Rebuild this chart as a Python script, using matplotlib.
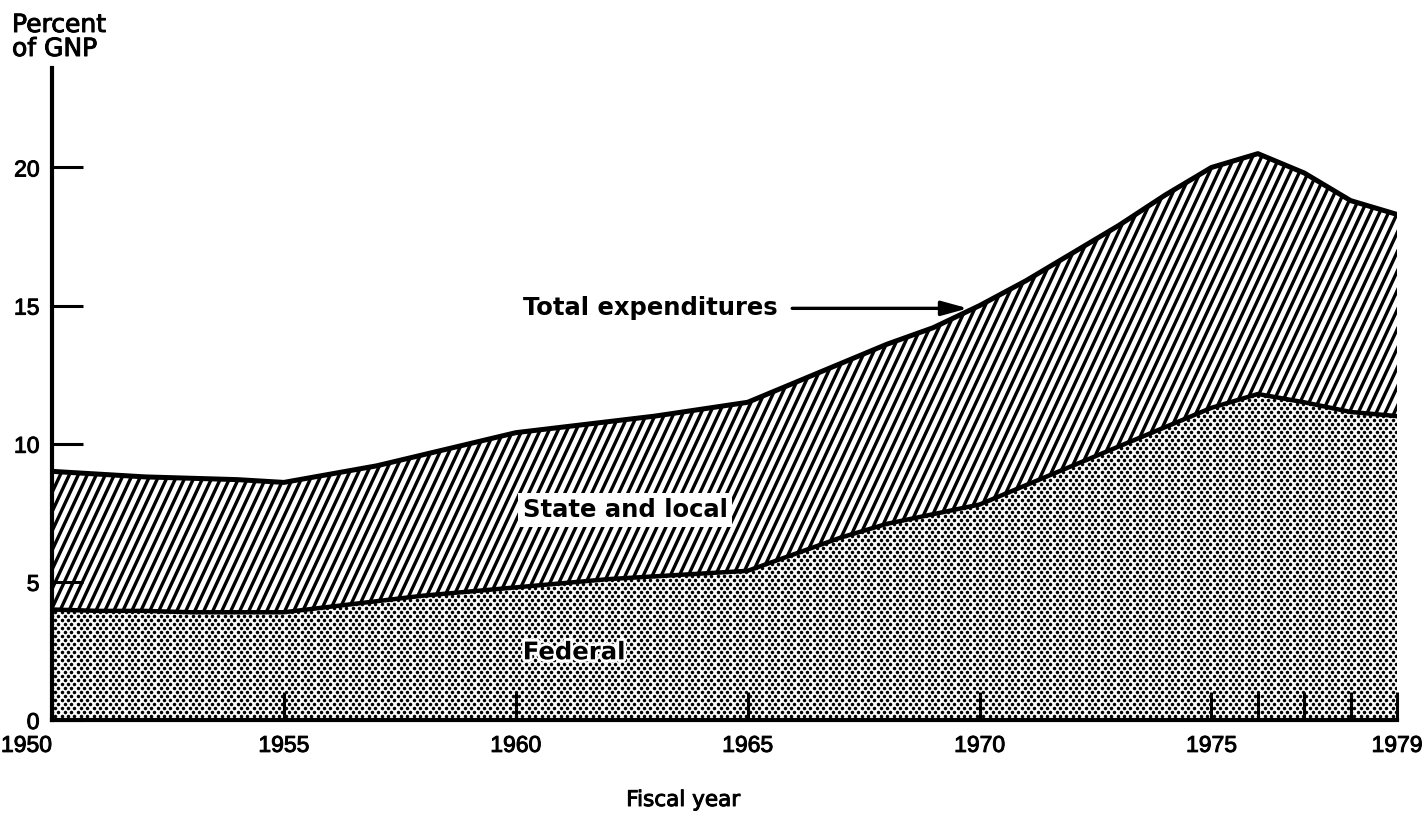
import numpy as np
import matplotlib
matplotlib.use("Agg")
import matplotlib.pyplot as plt
import matplotlib.patheffects as pe
from matplotlib.collections import LineCollection

plt.rcParams['font.family'] = ['Liberation Sans', 'DejaVu Sans']

# Data (percent of GNP)
years = np.arange(1950, 1980)
total = [9.0, 8.9, 8.8, 8.75, 8.7, 8.6, 8.9, 9.2, 9.6, 10.0,
         10.4, 10.6, 10.8, 11.0, 11.25, 11.5, 12.2, 12.9, 13.6, 14.2,
         15.0, 15.9, 16.9, 17.9, 19.0, 20.0, 20.5, 19.8, 18.8, 18.3]
federal = [4.0, 3.95, 3.95, 3.9, 3.9, 3.9, 4.1, 4.3, 4.5, 4.65,
           4.8, 4.95, 5.1, 5.2, 5.3, 5.4, 6.0, 6.6, 7.1, 7.45,
           7.8, 8.5, 9.2, 9.9, 10.6, 11.3, 11.8, 11.5, 11.15, 11.0]
xticks = [1950, 1955, 1960, 1965, 1970, 1975, 1976, 1977, 1978, 1979]
xlabels = ['1950', '1955', '1960', '1965', '1970', '1975', '', '', '', '1979']
yticks = [0, 5, 10, 15, 20]

W, H = 1428, 815
fig = plt.figure(figsize=(W / 100, H / 100), dpi=100)
rect = [52 / W, 95 / H, (1397 - 52) / W, (720 - 68) / H]
ax = fig.add_axes(rect)
xmin, xmax, ymin, ymax = 1950, 1979, 0, 23.6
ax.set_xlim(xmin, xmax)
ax.set_ylim(ymin, ymax)

# pixels per data unit, for the hand-made textures
ppx = rect[2] * W / (xmax - xmin)
ppy = rect[3] * H / (ymax - ymin)

# areas
fed_poly = ax.fill_between(years, 0, federal, facecolor='white', edgecolor='none', zorder=1)
st_poly = ax.fill_between(years, federal, total, facecolor='white', edgecolor='none', zorder=1)

# dot screen for federal area
gx, gy = 6.4, 4.0
rows = np.arange(0, int(rect[3] * H / gy) + 2)
pts = []
for j in rows:
    xs = np.arange(0, rect[2] * W + gx, gx) + (j % 2) * gx / 2
    pts.append(np.column_stack([xs, np.full_like(xs, j * gy)]))
pts = np.vstack(pts)
dots = ax.scatter(xmin + pts[:, 0] / ppx, ymin + pts[:, 1] / ppy, s=6.5,
                  color='black', linewidths=0, zorder=1.5)
dots.set_clip_path(fed_poly.get_paths()[0], ax.transData)

# diagonal hatch for state and local area
ang = np.deg2rad(65)
hpx = rect[3] * H
step = 9.0
x0s = np.arange(-hpx / np.tan(ang), rect[2] * W + step, step)
segs = [[(xmin + x0 / ppx, ymin), (xmin + (x0 + hpx / np.tan(ang)) / ppx, ymin + hpx / ppy)]
        for x0 in x0s]
hatch = LineCollection(segs, colors='black', linewidths=2.4, zorder=1.5)
ax.add_collection(hatch)
hatch.set_clip_path(st_poly.get_paths()[0], ax.transData)

# outlines
ax.plot(years, total, color='black', lw=3.6, zorder=3, solid_capstyle='butt')
ax.plot(years, federal, color='black', lw=3.2, zorder=3, solid_capstyle='butt')

# axes styling
for s in ['top', 'right']:
    ax.spines[s].set_visible(False)
for s in ['left', 'bottom']:
    ax.spines[s].set_linewidth(3)
ax.set_axisbelow(False)
ax.set_xticks(xticks)
ax.set_xticklabels(xlabels)
ax.set_yticks(yticks)
ax.tick_params(axis='x', direction='in', length=20, width=2.2, pad=10, labelsize=16.5)
ax.tick_params(axis='y', direction='in', length=22, width=2.2, pad=9, labelsize=16.5)
heavy = [pe.withStroke(linewidth=0.7, foreground='black')]
for lab in ax.get_xticklabels() + ax.get_yticklabels():
    lab.set_path_effects(heavy)
ax.get_xticklabels()[0].set_horizontalalignment('right')

ax.set_xlabel('Fiscal year', fontsize=15.5, family='DejaVu Sans', path_effects=heavy)
ax.xaxis.set_label_coords((683 - 52) / (1397 - 52), -(800 - 720) / (720 - 68))
ax.xaxis.label.set_verticalalignment('center')
fig.text(12 / W, 1 - 13 / H, 'Percent\nof GNP', fontsize=18, va='top', ha='left',
         family='DejaVu Sans', linespacing=1.0, path_effects=heavy)

# annotations
lab_font = dict(fontsize=17.5, fontweight='bold', family='DejaVu Sans', zorder=6)
ax.text(1960.15, 14.9, 'Total expenditures', va='center', ha='left', **lab_font)
ax.annotate('', xy=(1969.75, 14.9), xytext=(1965.96, 14.9), zorder=6,
            arrowprops=dict(arrowstyle='-|>,head_length=0.8,head_width=0.22',
                            color='black', lw=2.4, mutation_scale=20,
                            shrinkA=0, shrinkB=0))
ax.text(1960.15, 7.6, 'State and local', va='center', ha='left',
        bbox=dict(facecolor='white', edgecolor='none', pad=3.5), **lab_font)
ax.text(1960.15, 2.45, 'Federal', va='center', ha='left',
        path_effects=[pe.withStroke(linewidth=4, foreground='white')], **lab_font)

fig.savefig('out.png', dpi=100)
